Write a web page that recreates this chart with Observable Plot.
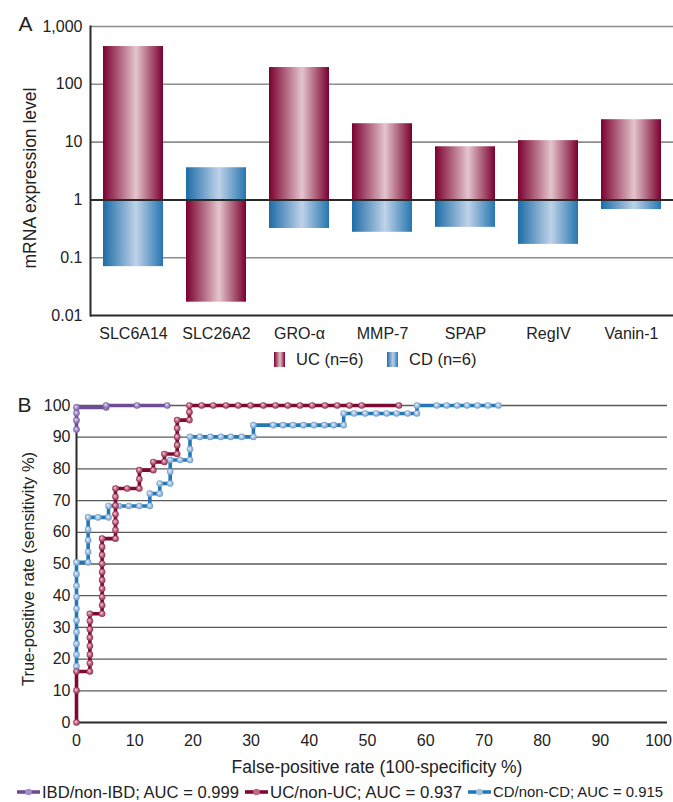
<!DOCTYPE html>
<html><head><meta charset="utf-8">
<script src="https://cdn.jsdelivr.net/npm/d3@7"></script>
<script src="https://cdn.jsdelivr.net/npm/@observablehq/plot@0.6"></script>
<style>
body{margin:0;background:#fff;font-family:"Liberation Sans",Arial,sans-serif;color:#222}
#wrap{position:relative;width:673px;height:802px;overflow:hidden}
#a,#b,#legB{position:absolute;left:0}
#a{top:0}
#b{top:375px}
#legB{top:782px}
.lg{position:absolute;white-space:nowrap;display:flex;align-items:center}
.sw{display:inline-block;width:11px;height:15px;margin-right:11px}
</style>
</head><body>
<div id="wrap">
  <div id="a"></div>
  <div class="lg" style="left:274px;top:350px;font-size:16.5px">
    <span class="sw" style="background:linear-gradient(to right,#7a0030,#e2c2ca 55%,#7a0030)"></span>UC (n=6)
  </div>
  <div class="lg" style="left:387px;top:350px;font-size:16.5px">
    <span class="sw" style="background:linear-gradient(to right,#1f6ea8,#bcd0e6 55%,#2a78b0)"></span>CD (n=6)
  </div>
  <div id="b"></div>
  <div id="legB"></div>
</div>
<script>
// ---------- Panel A data ----------
const genes = ["SLC6A14","SLC26A2","GRO-α","MMP-7","SPAP","RegIV","Vanin-1"];
const ucValues = [450, 0.017, 195, 20.8, 8.3, 10.6, 24.4];
const cdValues = [0.07, 3.6, 0.32, 0.275, 0.335, 0.17, 0.68];
const yTicksA = [0.01, 0.1, 1, 10, 100, 1000];
const yTickLabelsA = ["0.01", "0.1", "1", "10", "100", "1,000"];
const gridA = [1000, 100, 10, 0.1];

// ---------- Panel B data ----------
const ibdFpr = [0,0,0,0,5.1,5.1,10.4,15.6];
const ibdTpr = [92.4,95.3,97.6,99.4,99.4,100,100,100];

const ucFpr = [0,0,0,2.3,2.3,2.3,2.3,2.3,2.3,2.3,2.3,4.4,4.4,4.4,4.4,4.4,4.4,4.4,4.4,4.4,4.4,6.7,6.7,6.7,6.7,6.7,6.7,6.7,8.7,10.8,10.8,10.8,13.2,13.2,15.1,15.1,17.3,17.3,17.3,17.3,17.3,19.4,19.4,19.4,21.5,23.5,25.7,27.8,29.9,32.1,34.2,36.3,38.4,40.5,42.7,44.8,46.9,49,55.4];
const ucTpr = [0,10.1,16.1,16.1,18.7,21.4,24.1,26.8,29.4,32,34.3,34.3,37,39.6,42.2,44.9,47.5,50.1,52.8,55.4,58,58,60.7,63.2,65.7,68.4,71.2,73.8,73.8,73.8,76.8,79.6,79.6,82.2,82.2,84.7,84.7,87.5,90.1,92.8,95.4,95.4,97.9,100,100,100,100,100,100,100,100,100,100,100,100,100,100,100,100];

const cdFpr = [0,0,0,0,0,0,0,0,0,0,2,2,2,2,2,3.7,5.5,5.5,7.3,9,10.8,12.6,12.6,14.3,14.3,16.1,16.1,16.1,17.8,19.5,19.5,19.5,21.2,23,24.8,26.5,28.4,30.4,30.4,33.8,35.5,37.2,39,40.8,42.6,44.2,45.9,45.9,47.7,49.6,51.5,53.3,55,56.9,58.5,58.5,61.9,63.6,65.4,67.1,68.9,70.7,72.5];
const cdTpr = [17.7,21.4,24.8,28.5,32.2,35.9,39.6,43.1,46.8,50.5,50.5,53.8,57.5,60.9,64.7,64.7,64.7,68.3,68.3,68.3,68.3,68.3,72.2,72.2,75.4,75.4,79.1,82.8,82.8,82.8,86.2,90.1,90.1,90.1,90.1,90.1,90.1,90.1,93.8,93.8,93.8,93.8,93.8,93.8,93.8,93.8,93.8,97.5,97.5,97.5,97.5,97.5,97.5,97.5,97.5,100,100,100,100,100,100,100,100];

const xTicksB = d3.range(0, 101, 10);
const yTicksB = d3.range(0, 101, 10);
const gridB = d3.range(10, 101, 10);
const legendB = [
  {label: "IBD/non-IBD; AUC = 0.999", line: "#6c4d93", dot: "#a48fc6", left: 17, len: 197, size: 16.5},
  {label: "UC/non-UC; AUC = 0.937", line: "#7d0a34", dot: "#c06a86", left: 245, len: 192, size: 16.5},
  {label: "CD/non-CD; AUC = 0.915", line: "#2478b5", dot: "#a2c2e4", left: 468, len: 170, size: 14.8}
];

const FONT = '"Liberation Sans", Arial, sans-serif';

// ---------- Panel A ----------
const barRows = genes.map((g, i) => ({gene: g, uc: ucValues[i], cd: cdValues[i]}));
const A = Plot.plot({
  width: 673, height: 345,
  marginLeft: 90, marginRight: 0, marginTop: 26, marginBottom: 30,
  style: {fontFamily: FONT, fontSize: "16px", color: "#222", background: "white", overflow: "visible"},
  x: {domain: genes, paddingInner: 0.28, paddingOuter: 0.14},
  y: {type: "log", domain: [0.01, 1000]},
  marks: [
    Plot.ruleY(gridA, {stroke: "#8c8c8c", strokeWidth: 1.6}),
    Plot.barY(barRows, {x: "gene", y1: 1, y2: "uc", fill: "url(#ucGrad)"}),
    Plot.barY(barRows, {x: "gene", y1: 1, y2: "cd", fill: "url(#cdGrad)"}),
    Plot.ruleY([1], {stroke: "#2a2a2a", strokeWidth: 2}),
    Plot.ruleY([0.01], {stroke: "#2a2a2a", strokeWidth: 2}),
    Plot.frame({anchor: "left", stroke: "#2a2a2a", strokeWidth: 2}),
    Plot.axisY({ticks: yTicksA, tickFormat: d => yTickLabelsA[yTicksA.indexOf(d)], tickSize: 0, tickPadding: 8, fontSize: 16, label: null}),
    Plot.axisX({tickSize: 0, tickPadding: 12, fontSize: 16, label: null}),
    Plot.text(["mRNA expression level"], {frameAnchor: "left", dx: -60, dy: 7, rotate: -90, textAnchor: "middle", lineAnchor: "middle", fontSize: 17.5, fill: "#222"}),
    Plot.text(["A"], {frameAnchor: "top-left", dx: -72, dy: -2, textAnchor: "start", lineAnchor: "middle", fontSize: 21, fill: "#222"})
  ]
});
d3.select(A).insert("defs", ":first-child").html(`
  <linearGradient id="ucGrad" x1="0" x2="1" y1="0" y2="0">
    <stop offset="0" stop-color="#7a0030"/><stop offset="0.55" stop-color="#e4c5cc"/><stop offset="1" stop-color="#7a0030"/>
  </linearGradient>
  <linearGradient id="cdGrad" x1="0" x2="1" y1="0" y2="0">
    <stop offset="0" stop-color="#1d6ca7"/><stop offset="0.55" stop-color="#bfd2e8"/><stop offset="1" stop-color="#2676b0"/>
  </linearGradient>`);
document.getElementById("a").append(A);

// ---------- Panel B ----------
const toRows = (fpr, tpr) => fpr.map((x, i) => ({x, y: tpr[i]}));
const ibd = toRows(ibdFpr, ibdTpr), uc = toRows(ucFpr, ucTpr), cd = toRows(cdFpr, cdTpr);
const B = Plot.plot({
  width: 673, height: 405,
  marginLeft: 76, marginRight: 6, marginTop: 30, marginBottom: 58,
  style: {fontFamily: FONT, fontSize: "16px", color: "#222", background: "white", overflow: "visible"},
  x: {domain: [0, 100], range: [76, 658]},
  y: {domain: [0, 100]},
  marks: [
    Plot.ruleY(gridB, {stroke: "#5a5a5a", strokeWidth: 1.3}),
    Plot.ruleY([0], {stroke: "#2a2a2a", strokeWidth: 2}),
    Plot.ruleX([0], {y1: 0, y2: 100, stroke: "#2a2a2a", strokeWidth: 2}),
    Plot.line(cd, {x: "x", y: "y", stroke: "#2478b5", strokeWidth: 3.6}),
    Plot.dot(cd, {x: "x", y: "y", r: 3.3, fill: "url(#cdDot)"}),
    Plot.line(uc, {x: "x", y: "y", stroke: "#7d0a34", strokeWidth: 3.6}),
    Plot.dot(uc, {x: "x", y: "y", r: 3.3, fill: "url(#ucDot)"}),
    Plot.line(ibd, {x: "x", y: "y", stroke: "#6c4d93", strokeWidth: 3.6}),
    Plot.dot(ibd, {x: "x", y: "y", r: 3.3, fill: "url(#ibdDot)"}),
    Plot.axisY({ticks: yTicksB, tickSize: 0, tickPadding: 6, fontSize: 16, label: null}),
    Plot.axisX({ticks: xTicksB, tickSize: 0, tickPadding: 12, fontSize: 16, label: null}),
    Plot.text(["True-positive rate (sensitivity %)"], {frameAnchor: "left", dx: -48, dy: 5, rotate: -90, textAnchor: "middle", lineAnchor: "middle", fontSize: 16.5, fill: "#222"}),
    Plot.text(["False-positive rate (100-specificity %)"], {frameAnchor: "bottom", dx: 5, dy: 45, lineAnchor: "middle", fontSize: 17.5, fill: "#222"}),
    Plot.text(["B"], {frameAnchor: "top-left", dx: -59, dy: 0, textAnchor: "start", lineAnchor: "middle", fontSize: 21, fill: "#222"})
  ]
});
d3.select(B).insert("defs", ":first-child").html(`
  <radialGradient id="ucDot" cx="0.5" cy="0.5" r="0.5" fx="0.38" fy="0.35">
    <stop offset="0" stop-color="#f4d2da"/><stop offset="0.55" stop-color="#c06a86"/><stop offset="1" stop-color="#8e2a4c"/>
  </radialGradient>
  <radialGradient id="cdDot" cx="0.5" cy="0.5" r="0.5" fx="0.38" fy="0.35">
    <stop offset="0" stop-color="#eef5fc"/><stop offset="0.55" stop-color="#a2c2e4"/><stop offset="1" stop-color="#6e9bcb"/>
  </radialGradient>
  <radialGradient id="ibdDot" cx="0.5" cy="0.5" r="0.5" fx="0.38" fy="0.35">
    <stop offset="0" stop-color="#e8e0f2"/><stop offset="0.55" stop-color="#a48fc6"/><stop offset="1" stop-color="#715aa2"/>
  </radialGradient>`);
document.getElementById("b").append(B);

// ---------- Legend B ----------
const lb = d3.select("#legB").append("svg").attr("width", 673).attr("height", 20)
  .style("font-family", FONT);
legendB.forEach(d => {
  const g = lb.append("g").attr("transform", `translate(${d.left},10)`);
  g.append("line").attr("x1", 0).attr("x2", 23).attr("stroke", d.line).attr("stroke-width", 3.6);
  g.append("circle").attr("cx", 11.5).attr("r", 3.3).attr("fill", d.dot);
  g.append("text").attr("x", 25).attr("dy", "0.35em").attr("fill", "#222").style("font-size", d.size + "px")
    .attr("textLength", d.len).attr("lengthAdjust", "spacingAndGlyphs").text(d.label);
});
</script>
</body></html>
